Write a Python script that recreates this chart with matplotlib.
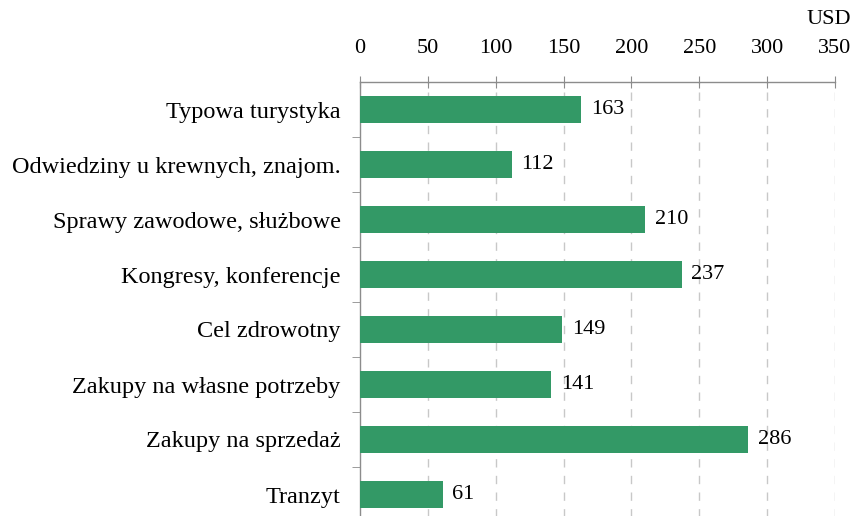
import matplotlib.pyplot as plt
from matplotlib.ticker import FixedLocator

categories = [
    "Typowa turystyka",
    "Odwiedziny u krewnych, znajom.",
    "Sprawy zawodowe, służbowe",
    "Kongresy, konferencje",
    "Cel zdrowotny",
    "Zakupy na własne potrzeby",
    "Zakupy na sprzedaż",
    "Tranzyt",
]
values = [163, 112, 210, 237, 149, 141, 286, 61]
xticks = [0, 50, 100, 150, 200, 250, 300, 350]

BAR = "#339966"
AXIS = "#8c8c8c"
GRID = "#c8c8c8"
FS_NUM = 16
FS_CAT = 17.5

plt.rcParams["font.family"] = ["Liberation Serif", "DejaVu Serif"]

W, H = 855, 516
fig = plt.figure(figsize=(W / 100, H / 100), dpi=100)
top, bot = 82, 522
ax = fig.add_axes([360 / W, (H - bot) / H, 475 / W, (bot - top) / H])

y = list(range(len(categories)))
ax.barh(y, values, height=0.5, color=BAR, zorder=3)
for yi, v in zip(y, values):
    ax.text(v + 7, yi, str(v), va="center", ha="left", fontsize=FS_NUM, zorder=4)

ax.set_xlim(0, 350)
ax.set_ylim(len(categories) - 0.5, -0.5)
ax.xaxis.tick_top()
ax.set_xticks(xticks)
ax.set_xticklabels([str(t) for t in xticks], fontsize=FS_NUM)
ax.tick_params(axis="x", direction="inout", length=8, color=AXIS, pad=13)
ax.set_yticks(y)
ax.set_yticklabels(categories, fontsize=FS_CAT)
ax.tick_params(axis="y", length=0, pad=14)
ax.yaxis.set_minor_locator(FixedLocator([i + 0.5 for i in range(len(categories) - 1)]))
ax.tick_params(axis="y", which="minor", length=6, color=AXIS, direction="out")

for xv in xticks[1:]:
    ax.axvline(xv, color=GRID, lw=1, ls=(0, (6, 6)), zorder=1)

for s in ["right", "bottom"]:
    ax.spines[s].set_visible(False)
for s in ["top", "left"]:
    ax.spines[s].set_color(AXIS)
    ax.spines[s].set_linewidth(1)

fig.text(851 / W, 1 - 20 / H, "USD", ha="right", va="center", fontsize=FS_NUM)

fig.savefig("out.png", dpi=100)
